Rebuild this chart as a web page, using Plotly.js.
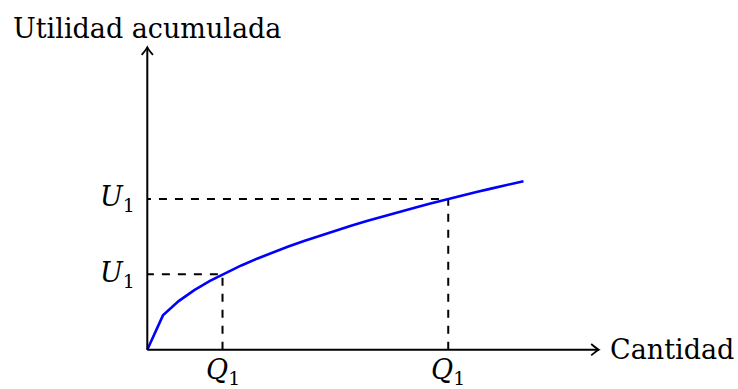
<!DOCTYPE html>
<html>
<head>
<meta charset="utf-8">
<script src="https://cdn.plot.ly/plotly-3.0.1.min.js"></script>
<style>html,body{margin:0;padding:0;background:#fff;}#chart{width:738px;height:389px;}</style>
</head>
<body>
<div id="chart"></div>
<script>
// Curve samples (cantidad, utilidad acumulada)
const curveX = [0, 0.208, 0.417, 0.625, 0.833, 1.042, 1.25, 1.458, 1.667, 1.875, 2.083, 2.292, 2.5, 2.708, 2.917, 3.125, 3.333, 3.542, 3.75, 3.958, 4.167, 4.375, 4.583, 4.792, 5.0];
const curveY = [0, 0.456, 0.645, 0.791, 0.913, 1.021, 1.118, 1.208, 1.291, 1.369, 1.443, 1.514, 1.581, 1.646, 1.708, 1.768, 1.826, 1.882, 1.936, 1.990, 2.041, 2.092, 2.141, 2.189, 2.236];

// Marked quantities and utilities
const qValues = [1, 4];
const uValues = [1, 2];
const qLabels = ['<i>Q</i><sub>1</sub>', '<i>Q</i><sub>1</sub>'];
const uLabels = ['<i>U</i><sub>1</sub>', '<i>U</i><sub>1</sub>'];

const xAxisTitle = 'Cantidad';
const yAxisTitle = 'Utilidad acumulada';

const xMax = 6.0;
const yMax = 4.013;
const PADX = 0.15, PADY = 0.15;
const UX = 75.33, UY = 75.5; // pixels per unit

const FONT = 'DejaVu Serif, serif';
const FS = 27;

const traces = [];
for (let i = 0; i < qValues.length; i++) {
  traces.push({
    x: [qValues[i], qValues[i], 0],
    y: [0, uValues[i], uValues[i]],
    mode: 'lines',
    line: {color: '#000', width: 2, dash: '8px,8px'},
    hoverinfo: 'skip',
    showlegend: false
  });
}
traces.push({
  x: curveX, y: curveY, mode: 'lines',
  line: {color: '#0000ff', width: 2.6},
  showlegend: false
});

const shapes = [
  {type: 'line', xref: 'x', yref: 'y', x0: 0, y0: 0, x1: xMax, y1: 0, line: {color: '#000', width: 2}},
  {type: 'line', xref: 'x', yref: 'y', x0: 0, y0: 0, x1: 0, y1: yMax, line: {color: '#000', width: 2}},
  {type: 'path', xref: 'x', yref: 'y',
   path: `M ${xMax - 0.1},0.075 Q ${xMax - 0.03},0.015 ${xMax},0 Q ${xMax - 0.03},-0.015 ${xMax - 0.1},-0.075`,
   line: {color: '#000', width: 1.8}},
  {type: 'path', xref: 'x', yref: 'y',
   path: `M -0.075,${yMax - 0.1} Q -0.015,${yMax - 0.03} 0,${yMax} Q 0.015,${yMax - 0.03} 0.075,${yMax - 0.1}`,
   line: {color: '#000', width: 1.8}}
];

const annotations = [];
for (let i = 0; i < qValues.length; i++) {
  annotations.push({xref: 'x', yref: 'y', x: qValues[i], y: 0, text: qLabels[i], showarrow: false,
    xanchor: 'center', yanchor: 'top', yshift: -2, font: {family: FONT, size: FS, color: '#000'}});
  annotations.push({xref: 'x', yref: 'y', x: 0, y: uValues[i], text: uLabels[i], showarrow: false,
    xanchor: 'right', yanchor: 'middle', xshift: -10, font: {family: FONT, size: FS, color: '#000'}});
}
annotations.push({xref: 'x', yref: 'y', x: xMax, y: 0, text: xAxisTitle, showarrow: false,
  xanchor: 'left', yanchor: 'middle', xshift: 9, font: {family: FONT, size: FS, color: '#000'}});
annotations.push({xref: 'x', yref: 'y', x: 0, y: yMax, text: yAxisTitle, showarrow: false,
  xanchor: 'center', yanchor: 'bottom', yshift: 1, font: {family: FONT, size: FS, color: '#000'}});

const plotW = (xMax + 2 * PADX) * UX;
const plotH = (yMax + 2 * PADY) * UY;
const mL = 147 - PADX * UX;
const mT = 47 - PADY * UY;

const layout = {
  width: 738, height: 389,
  margin: {l: mL, r: 738 - mL - plotW, t: mT, b: 389 - mT - plotH, pad: 0},
  paper_bgcolor: '#fff', plot_bgcolor: '#fff',
  xaxis: {range: [-PADX, xMax + PADX], visible: false, fixedrange: true},
  yaxis: {range: [-PADY, yMax + PADY], visible: false, fixedrange: true},
  shapes: shapes,
  annotations: annotations,
  showlegend: false
};

Plotly.newPlot('chart', traces, layout, {displayModeBar: false, staticPlot: true});
</script>
</body>
</html>
